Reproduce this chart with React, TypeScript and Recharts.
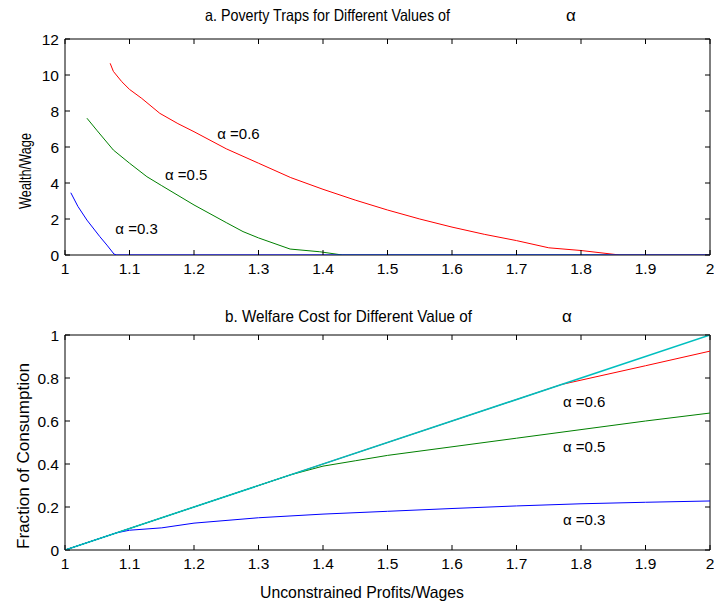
import React from 'react';
import { LineChart, Line, XAxis, YAxis, ReferenceArea, ReferenceDot } from 'recharts';

const FONT = '"Liberation Sans", Arial, sans-serif';

// x axis: unconstrained profits / wages
const X_TICKS = [1, 1.1, 1.2, 1.3, 1.4, 1.5, 1.6, 1.7, 1.8, 1.9, 2];
const TOP_Y_TICKS = [0, 2, 4, 6, 8, 10, 12];
const BOTTOM_Y_TICKS = [0, 0.2, 0.4, 0.6, 0.8, 1];

// panel a: poverty traps
const trapA06 = [
  { x: 1.07, y: 10.65 }, { x: 1.075, y: 10.2 }, { x: 1.088, y: 9.63 }, { x: 1.1, y: 9.2 },
  { x: 1.119, y: 8.7 }, { x: 1.147, y: 7.87 }, { x: 1.175, y: 7.3 }, { x: 1.2, y: 6.85 },
  { x: 1.25, y: 5.9 }, { x: 1.3, y: 5.1 }, { x: 1.35, y: 4.3 }, { x: 1.4, y: 3.65 },
  { x: 1.45, y: 3.05 }, { x: 1.5, y: 2.5 }, { x: 1.55, y: 2.0 }, { x: 1.6, y: 1.55 },
  { x: 1.65, y: 1.15 }, { x: 1.7, y: 0.8 }, { x: 1.75, y: 0.4 }, { x: 1.8, y: 0.25 },
  { x: 1.86, y: 0 }, { x: 2, y: 0 },
];
const trapA05 = [
  { x: 1.034, y: 7.6 }, { x: 1.05, y: 6.9 }, { x: 1.075, y: 5.83 }, { x: 1.1, y: 5.1 },
  { x: 1.127, y: 4.35 }, { x: 1.15, y: 3.85 }, { x: 1.2, y: 2.78 }, { x: 1.25, y: 1.8 },
  { x: 1.276, y: 1.3 }, { x: 1.3, y: 0.95 }, { x: 1.349, y: 0.33 }, { x: 1.395, y: 0.18 },
  { x: 1.43, y: 0 }, { x: 2, y: 0 },
];
const trapA03 = [
  { x: 1.009, y: 3.46 }, { x: 1.02, y: 2.7 }, { x: 1.034, y: 1.94 }, { x: 1.054, y: 1.02 },
  { x: 1.065, y: 0.55 }, { x: 1.076, y: 0.05 }, { x: 1.08, y: 0 }, { x: 2, y: 0 },
];

// panel b: fraction of consumption
const consUnconstrained = [{ x: 1, y: 0 }, { x: 2, y: 1 }];
const consA06 = [
  { x: 1, y: 0 }, { x: 1.77, y: 0.77 }, { x: 1.8, y: 0.79 }, { x: 1.9, y: 0.857 }, { x: 2, y: 0.925 },
];
const consA05 = [
  { x: 1, y: 0 }, { x: 1.35, y: 0.35 }, { x: 1.4, y: 0.39 }, { x: 1.45, y: 0.415 },
  { x: 1.5, y: 0.44 }, { x: 1.6, y: 0.48 }, { x: 1.7, y: 0.52 }, { x: 1.8, y: 0.56 },
  { x: 1.9, y: 0.6 }, { x: 2, y: 0.637 },
];
const consA03 = [
  { x: 1, y: 0 }, { x: 1.08, y: 0.08 }, { x: 1.1, y: 0.092 }, { x: 1.15, y: 0.103 },
  { x: 1.2, y: 0.125 }, { x: 1.3, y: 0.15 }, { x: 1.4, y: 0.167 }, { x: 1.5, y: 0.18 },
  { x: 1.6, y: 0.193 }, { x: 1.7, y: 0.205 }, { x: 1.8, y: 0.215 }, { x: 1.9, y: 0.222 },
  { x: 2, y: 0.228 },
];

const TOP_LABELS = [
  { x: 1.236, y: 6.72, text: 'α =0.6' },
  { x: 1.155, y: 4.44, text: 'α =0.5' },
  { x: 1.078, y: 1.44, text: 'α =0.3' },
];
const BOTTOM_LABELS = [
  { x: 1.772, y: 0.688, text: 'α =0.6' },
  { x: 1.772, y: 0.479, text: 'α =0.5' },
  { x: 1.772, y: 0.14, text: 'α =0.3' },
];

const PLOT_W = 645;

const XTick = ({ x, y, payload, plotH }: any) => (
  <g>
    <line x1={x} y1={y} x2={x} y2={y - 5} stroke="#000" />
    <line x1={x} y1={y - plotH} x2={x} y2={y - plotH + 5} stroke="#000" />
    <text x={x} y={y + 19} textAnchor="middle" fontSize={15.5} fontFamily={FONT} fill="#000">
      {String(payload.value)}
    </text>
  </g>
);

const YTick = ({ x, y, payload }: any) => (
  <g>
    <line x1={x} y1={y} x2={x + 5} y2={y} stroke="#000" />
    <line x1={x + PLOT_W} y1={y} x2={x + PLOT_W - 5} y2={y} stroke="#000" />
    <text x={x - 6} y={y + 5.5} textAnchor="end" fontSize={15.5} fontFamily={FONT} fill="#000">
      {String(payload.value)}
    </text>
  </g>
);

const renderNote = (text: string) => (props: any) => {
  const vb = props.viewBox || {};
  return (
    <text x={vb.x} y={vb.y + 5} fontSize={15} fontFamily={FONT} fill="#000">
      {text}
    </text>
  );
};

export default function App() {
  return (
    <div style={{ position: 'absolute', left: 0, top: 0, width: 714, height: 610, background: '#fff' }}>
      <div style={{ position: 'absolute', left: 0, top: 0 }}>
        <LineChart width={714} height={300} margin={{ top: 39, right: 4, bottom: 15, left: 25 }}>
          <XAxis
            dataKey="x"
            type="number"
            domain={[1, 2]}
            ticks={X_TICKS}
            allowDataOverflow
            height={30}
            tickSize={0}
            tickMargin={0}
            axisLine={false}
            tick={<XTick plotH={216} />}
          />
          <YAxis
            type="number"
            domain={[0, 12]}
            ticks={TOP_Y_TICKS}
            allowDataOverflow
            width={40}
            tickSize={0}
            tickMargin={0}
            axisLine={false}
            tick={<YTick />}
          />
          <ReferenceArea x1={1} x2={2} y1={0} y2={12} fill="none" stroke="#000" strokeWidth={1} ifOverflow="visible" />
          <Line data={trapA06} dataKey="y" stroke="#ff0000" strokeWidth={1} dot={false} isAnimationActive={false} />
          <Line data={trapA05} dataKey="y" stroke="#008000" strokeWidth={1} dot={false} isAnimationActive={false} />
          <Line data={trapA03} dataKey="y" stroke="#0000ff" strokeWidth={1} dot={false} isAnimationActive={false} />
          {TOP_LABELS.map((l) => (
            <ReferenceDot key={l.text} x={l.x} y={l.y} r={0} fill="none" stroke="none" label={renderNote(l.text)} />
          ))}
          <text x={205} y={21} fontSize={16.5} fontFamily={FONT} fill="#000" textLength={245} lengthAdjust="spacingAndGlyphs">
            a. Poverty Traps for Different Values of
          </text>
          <text x={566} y={21} fontSize={17} fontFamily={FONT} fill="#000">α</text>
          <text
            x={25}
            y={171}
            transform="rotate(-90 25 171)"
            textAnchor="middle"
            dominantBaseline="central"
            fontSize={16.5}
            fontFamily={FONT}
            fill="#000"
            textLength={76}
            lengthAdjust="spacingAndGlyphs"
          >
            Wealth/Wage
          </text>
        </LineChart>
      </div>
      <div style={{ position: 'absolute', left: 0, top: 300 }}>
        <LineChart width={714} height={310} margin={{ top: 35, right: 4, bottom: 30, left: 25 }}>
          <XAxis
            dataKey="x"
            type="number"
            domain={[1, 2]}
            ticks={X_TICKS}
            allowDataOverflow
            height={30}
            tickSize={0}
            tickMargin={0}
            axisLine={false}
            tick={<XTick plotH={215} />}
          />
          <YAxis
            type="number"
            domain={[0, 1]}
            ticks={BOTTOM_Y_TICKS}
            allowDataOverflow
            width={40}
            tickSize={0}
            tickMargin={0}
            axisLine={false}
            tick={<YTick />}
          />
          <ReferenceArea x1={1} x2={2} y1={0} y2={1} fill="none" stroke="#000" strokeWidth={1} ifOverflow="visible" />
          <Line data={consA06} dataKey="y" stroke="#ff0000" strokeWidth={1} dot={false} isAnimationActive={false} />
          <Line data={consA05} dataKey="y" stroke="#008000" strokeWidth={1} dot={false} isAnimationActive={false} />
          <Line data={consA03} dataKey="y" stroke="#0000ff" strokeWidth={1} dot={false} isAnimationActive={false} />
          <Line data={consUnconstrained} dataKey="y" stroke="#00bfbf" strokeWidth={1.6} dot={false} isAnimationActive={false} />
          {BOTTOM_LABELS.map((l) => (
            <ReferenceDot key={l.text} x={l.x} y={l.y} r={0} fill="none" stroke="none" label={renderNote(l.text)} />
          ))}
          <text x={225} y={22} fontSize={16.5} fontFamily={FONT} fill="#000" textLength={247} lengthAdjust="spacingAndGlyphs">
            b. Welfare Cost for Different Value of
          </text>
          <text x={562} y={22} fontSize={17} fontFamily={FONT} fill="#000">α</text>
          <text
            x={23}
            y={156}
            transform="rotate(-90 23 156)"
            textAnchor="middle"
            dominantBaseline="central"
            fontSize={16.5}
            fontFamily={FONT}
            fill="#000"
            textLength={186}
            lengthAdjust="spacingAndGlyphs"
          >
            Fraction of Consumption
          </text>
          <text x={260} y={298} fontSize={16.5} fontFamily={FONT} fill="#000" textLength={204} lengthAdjust="spacingAndGlyphs">
            Unconstrained Profits/Wages
          </text>
        </LineChart>
      </div>
    </div>
  );
}
